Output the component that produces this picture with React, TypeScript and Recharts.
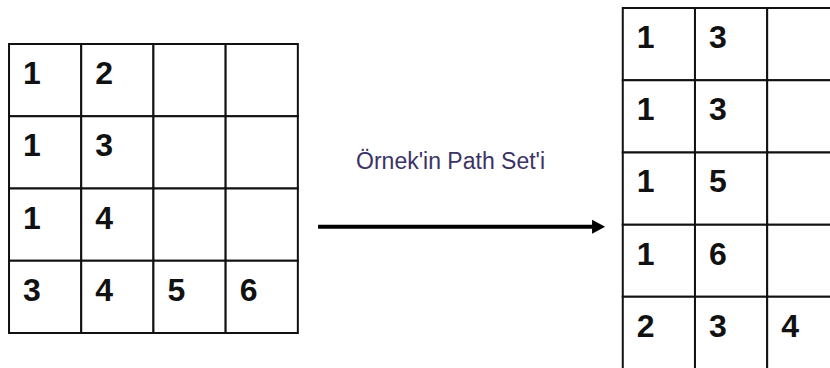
import { ComposedChart, XAxis, YAxis, Scatter, ReferenceArea, ReferenceLine } from "recharts"

// grid contents, row by row ("" = empty cell)
const leftRows = [
  ["1", "2", "", ""],
  ["1", "3", "", ""],
  ["1", "4", "", ""],
  ["3", "4", "5", "6"],
]

const rightRows = [
  ["1", "3", ""],
  ["1", "3", ""],
  ["1", "5", ""],
  ["1", "6", ""],
  ["2", "3", "4"],
]

// where each grid starts, in cell units
const leftOrigin = { col: 0, row: 0.5 }
const rightOrigin = { col: 8.5, row: 0 }

const arrowFrom = { x: 4.28, y: 3.03 }
const arrowTo = { x: 8.255, y: 3.03 }
const caption = "Örnek'in Path Set'i"

const xDomain = [-0.125, 11.37]
const yDomain = [-0.11, 4.985]

const FONT = '"Liberation Sans", Arial, sans-serif'

interface Cell {
  x: number
  y: number
  value: string
}

function toCells(rows: string[][], origin: { col: number; row: number }): Cell[] {
  const out: Cell[] = []
  rows.forEach((row, r) => {
    row.forEach((value, c) => {
      out.push({ x: origin.col + c, y: origin.row + r, value })
    })
  })
  return out
}

const cells = [...toCells(leftRows, leftOrigin), ...toCells(rightRows, rightOrigin)]
const filled = cells.filter((c) => c.value !== "")

function NumberMark(props: any) {
  const { cx, cy, payload } = props
  return (
    <text x={cx + 14} y={cy + 40} fontFamily={FONT} fontWeight="bold" fontSize={32} fill="#111">
      {payload.value}
    </text>
  )
}

function Arrow(props: any) {
  const { x1, y1, x2 } = props
  const mid = (x1 + x2) / 2
  return (
    <g>
      <line x1={x1} y1={y1} x2={x2 - 10} y2={y1} stroke="#000" strokeWidth={4} />
      <polygon points={`${x2 - 13},${y1 - 7} ${x2},${y1} ${x2 - 13},${y1 + 7}`} fill="#000" />
      <text x={mid - 11} y={y1 - 58} textAnchor="middle" fontFamily={FONT} fontSize={23} fill="#3b3366">
        {caption}
      </text>
    </g>
  )
}

export default function App() {
  return (
    <div style={{ position: "absolute", left: 0, top: 0, width: 830, height: 368, background: "#fff" }}>
      <ComposedChart width={830} height={368} margin={{ top: 0, right: 0, bottom: 0, left: 0 }}>
        <XAxis type="number" dataKey="x" domain={xDomain} allowDataOverflow hide />
        <YAxis type="number" dataKey="y" domain={yDomain} allowDataOverflow reversed hide />
        {cells.map((c, i) => (
          <ReferenceArea
            key={i}
            x1={c.x}
            x2={c.x + 1}
            y1={c.y}
            y2={c.y + 1}
            fill="#fff"
            fillOpacity={1}
            stroke="#111"
            strokeWidth={2}
            ifOverflow="hidden"
          />
        ))}
        <ReferenceLine segment={[arrowFrom, arrowTo]} shape={Arrow} ifOverflow="visible" />
        <Scatter data={filled} dataKey="y" shape={NumberMark} isAnimationActive={false} />
      </ComposedChart>
    </div>
  )
}
